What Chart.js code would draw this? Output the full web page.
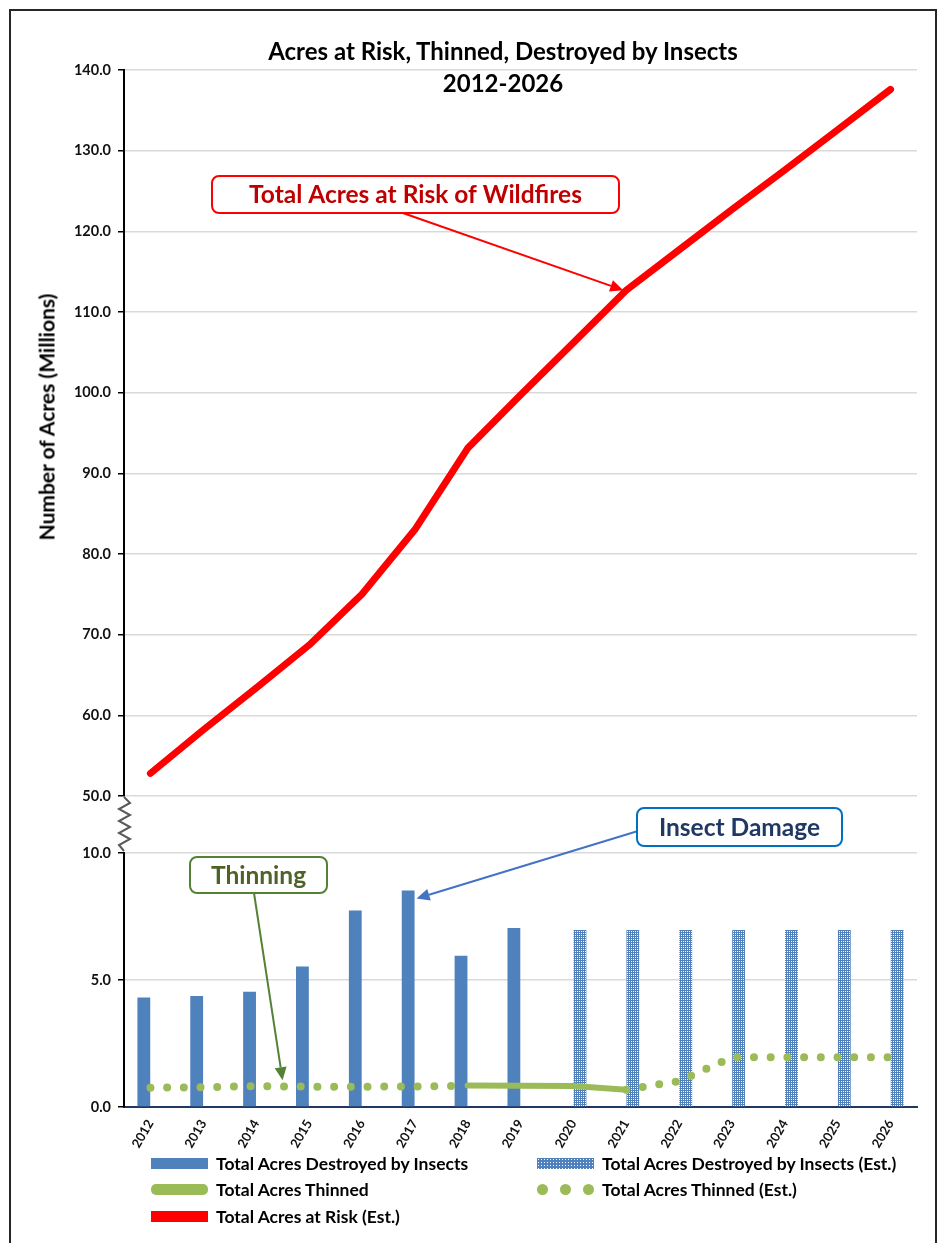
<!DOCTYPE html>
<html>
<head>
<meta charset="utf-8">
<title>Acres at Risk, Thinned, Destroyed by Insects</title>
<script src="https://cdn.jsdelivr.net/npm/chart.js@4.4.1/dist/chart.umd.min.js"></script>
<style>
  body { margin: 0; background: #fff; font-family: Lato, 'Noto Sans', sans-serif; }
  #page { position: relative; width: 945px; height: 1243px; overflow: hidden; }
  #frame { position: absolute; left: 9px; top: 9px; width: 928px; height: 1270px; border: 2px solid #262626; box-sizing: border-box; }
  canvas { position: absolute; left: 0; top: 0; }
  .title { position: absolute; left: 0; width: 1006px; text-align: center; font-weight: bold; font-size: 24px; color: #000; line-height: 26px; }
  #y-title { position: absolute; left: 46px; top: 417px; transform: translate(-50%, -50%) rotate(-90deg); white-space: nowrap; font-weight: bold; font-size: 21px; color: #000; }
  .key { position: absolute; display: flex; align-items: center; height: 20px; font-weight: bold; font-size: 17.5px; color: #000; white-space: nowrap; }
  .swatch { width: 57px; height: 11px; margin-right: 8px; }
  .pill { border-radius: 5px; }
  .dots { display: flex; justify-content: space-between; background: none; height: 11px; }
  .dots span { width: 11px; height: 11px; border-radius: 50%; background: #9bbb59; }
  .hatch { background-color: #4f81bd; background-image: radial-gradient(#ffffff 0.7px, transparent 0.9px); background-size: 3px 3px; }
</style>
</head>
<body>
<div id="page">
  <div id="frame"></div>
  <canvas id="upper-chart" width="945" height="1243"></canvas>
  <canvas id="lower-chart" width="945" height="1243"></canvas>

  <div class="title" style="top:38px">Acres at Risk, Thinned, Destroyed by Insects</div>
  <div class="title" style="top:70px">2012-2026</div>
  <div id="y-title">Number of Acres (Millions)</div>

  <div class="key" style="left:151px; top:1153px"><span class="swatch" style="background:#4f81bd"></span>Total Acres Destroyed by Insects</div>
  <div class="key" style="left:537px; top:1153px"><span class="swatch hatch"></span>Total Acres Destroyed by Insects (Est.)</div>
  <div class="key" style="left:151px; top:1179px"><span class="swatch pill" style="background:#9bbb59"></span>Total Acres Thinned</div>
  <div class="key" style="left:537px; top:1179px"><span class="swatch dots"><span></span><span></span><span></span></span>Total Acres Thinned (Est.)</div>
  <div class="key" style="left:151px; top:1206px"><span class="swatch" style="background:#ff0000"></span>Total Acres at Risk (Est.)</div>
</div>

<script>
'use strict';

// ******* DATA *******

let years = ['2012', '2013', '2014', '2015', '2016', '2017', '2018', '2019', '2020', '2021', '2022', '2023', '2024', '2025', '2026'];

let riskAcres = [52.8, 58.2, 63.4, 68.7, 75.0, 83.0, 93.1, 99.7, 106.2, 112.7, 117.7, 122.7, 127.6, 132.6, 137.6];

let insectAcres = [4.31, 4.37, 4.54, 5.53, 7.74, 8.52, 5.95, 7.05, null, null, null, null, null, null, null];
let insectAcresEst = [null, null, null, null, null, null, null, null, 6.97, 6.97, 6.97, 6.97, 6.97, 6.97, 6.97];

let thinnedAcres = [null, null, null, null, null, null, 0.85, 0.84, 0.83, 0.68, null, null, null, null, null];
let thinnedAcresEst = [0.76, 0.78, 0.82, 0.80, 0.80, 0.81, 0.84, null, null, 0.68, 1.02, 1.96, 1.96, 1.96, 1.96];

let upperTicks = [50, 60, 70, 80, 90, 100, 110, 120, 130, 140];
let lowerTicks = [0, 5, 10];


// ******* STYLE CONSTANTS *******

const BLUE = '#4f81bd';
const GREEN = '#9bbb59';
const RED = '#ff0000';
const AXIS_W = 124;        // y axis box width, puts the axis line at x = 124
const PAD_RIGHT = 28;
const tickFont = { family: 'Lato', size: 14.5, weight: 'bold' };


// ****** HELPERS ******

function makeDotPattern() {
  let tile = document.createElement('canvas');
  tile.width = 4;
  tile.height = 4;
  let tctx = tile.getContext('2d');
  tctx.fillStyle = BLUE;
  tctx.fillRect(0, 0, 4, 4);
  tctx.fillStyle = '#ffffff';
  [[1, 1], [3, 1], [1, 3], [3, 3]].forEach(p => tctx.fillRect(p[0], p[1], 1, 1));
  return tctx.createPattern(tile, 'repeat');
}

function drawArrow(ctx, from, tip, color) {
  let ang = Math.atan2(tip.y - from.y, tip.x - from.x);
  let len = 13;
  let half = 6;
  let bx = tip.x - len * Math.cos(ang);
  let by = tip.y - len * Math.sin(ang);
  ctx.strokeStyle = color;
  ctx.fillStyle = color;
  ctx.lineWidth = 2;
  ctx.beginPath();
  ctx.moveTo(from.x, from.y);
  ctx.lineTo(bx, by);
  ctx.stroke();
  ctx.beginPath();
  ctx.moveTo(tip.x, tip.y);
  ctx.lineTo(bx + half * Math.sin(ang), by - half * Math.cos(ang));
  ctx.lineTo(bx - half * Math.sin(ang), by + half * Math.cos(ang));
  ctx.closePath();
  ctx.fill();
}

function drawCallout(ctx, note, tip) {
  ctx.save();
  drawArrow(ctx, note.from, tip, note.arrow);
  ctx.beginPath();
  ctx.roundRect(note.x, note.y, note.w, note.h, 7);
  ctx.fillStyle = '#ffffff';
  ctx.fill();
  ctx.lineWidth = 2;
  ctx.strokeStyle = note.border;
  ctx.stroke();
  ctx.fillStyle = note.color;
  ctx.font = 'bold 24.5px Lato';
  ctx.textAlign = 'center';
  ctx.textBaseline = 'middle';
  ctx.fillText(note.text, note.x + note.w / 2, note.y + note.h / 2 + 1);
  ctx.restore();
}

function yLabel(value) {
  return Number(value).toFixed(1);
}


// ******* CALLOUT PLUGINS *******

let upperNotes = {
  id: 'upperNotes',
  afterDraw(chart) {
    let x = chart.scales.x;
    let y = chart.scales.y;
    let tip = { x: x.getPixelForValue(9) - 3, y: y.getPixelForValue(riskAcres[9]) };
    drawCallout(chart.ctx, {
      text: 'Total Acres at Risk of Wildfires',
      x: 212, y: 176, w: 407, h: 37,
      border: RED, color: '#c00000', arrow: RED,
      from: { x: 400, y: 212 }
    }, tip);
  }
};

let lowerNotes = {
  id: 'lowerNotes',
  afterDraw(chart) {
    let ctx = chart.ctx;
    let x = chart.scales.x;
    let y = chart.scales.y;
    let area = chart.chartArea;

    // broken axis squiggle between 50.0 and 10.0
    ctx.save();
    ctx.strokeStyle = '#595959';
    ctx.lineWidth = 2;
    ctx.beginPath();
    let top = 797;
    let bottom = area.top - 2;
    let steps = 9;
    ctx.moveTo(area.left, top);
    for (let i = 1; i < steps; i++) {
      let py = top + (bottom - top) * i / steps;
      ctx.lineTo(area.left + (i % 2 ? 6 : -5), py);
    }
    ctx.lineTo(area.left, bottom);
    ctx.stroke();
    ctx.restore();

    let bar2017 = chart.getDatasetMeta(2).data[5];
    drawCallout(ctx, {
      text: 'Insect Damage',
      x: 637, y: 808, w: 205, h: 38,
      border: '#0070c0', color: '#1f3864', arrow: '#4472c4',
      from: { x: 638, y: 831 }
    }, { x: bar2017.x + bar2017.width / 2 + 2, y: bar2017.y + 8 });

    drawCallout(ctx, {
      text: 'Thinning',
      x: 190, y: 857, w: 137, h: 36,
      border: '#548235', color: '#4f6228', arrow: '#548235',
      from: { x: 254, y: 893 }
    }, { x: (x.getPixelForValue(2) + x.getPixelForValue(3)) / 2, y: y.getPixelForValue(thinnedAcresEst[2]) - 6 });
  }
};


// ******* UPPER CHART (50 - 140) *******

let upperChart = new Chart(document.getElementById('upper-chart'), {
  type: 'line',
  data: {
    labels: years,
    datasets: [{
      label: 'Total Acres at Risk (Est.)',
      data: riskAcres,
      borderColor: RED,
      borderWidth: 7,
      borderCapStyle: 'round',
      borderJoinStyle: 'round',
      pointRadius: 0,
      tension: 0
    }]
  },
  options: {
    responsive: false,
    animation: false,
    layout: { padding: { left: 0, right: PAD_RIGHT, top: 70, bottom: 1243 - 796 } },
    plugins: { legend: { display: false }, tooltip: { enabled: false } },
    scales: {
      x: { display: false, offset: true },
      y: {
        min: 50,
        max: 140,
        afterBuildTicks: scale => { scale.ticks = upperTicks.map(v => ({ value: v })); },
        afterFit: scale => { scale.width = AXIS_W; },
        grid: { color: '#d9d9d9', lineWidth: 1.5, tickColor: '#000', tickLength: 6 },
        border: { color: '#000', width: 2 },
        ticks: { color: '#111', font: tickFont, padding: 7, callback: yLabel }
      }
    }
  },
  plugins: [upperNotes]
});


// ******* LOWER CHART (0 - 10) *******

let lowerChart = new Chart(document.getElementById('lower-chart'), {
  type: 'bar',
  data: {
    labels: years,
    datasets: [
      {
        type: 'line',
        label: 'Total Acres Thinned',
        data: thinnedAcres,
        borderColor: GREEN,
        borderWidth: 6,
        borderCapStyle: 'round',
        pointRadius: 0,
        order: 0
      },
      {
        type: 'line',
        label: 'Total Acres Thinned (Est.)',
        data: thinnedAcresEst,
        borderColor: GREEN,
        borderWidth: 8,
        borderDash: [0, 16.7],
        borderCapStyle: 'round',
        pointRadius: 0,
        order: 0
      },
      {
        label: 'Total Acres Destroyed by Insects',
        data: insectAcres,
        backgroundColor: BLUE,
        order: 1
      },
      {
        label: 'Total Acres Destroyed by Insects (Est.)',
        data: insectAcresEst,
        backgroundColor: makeDotPattern(),
        order: 1
      }
    ]
  },
  options: {
    responsive: false,
    animation: false,
    layout: { padding: { left: 0, right: PAD_RIGHT, top: 853, bottom: 94 } },
    plugins: { legend: { display: false }, tooltip: { enabled: false } },
    datasets: { bar: { categoryPercentage: 0.5, barPercentage: 0.97 } },
    scales: {
      x: {
        offset: true,
        afterFit: scale => { scale.height = 42; },
        grid: { display: false },
        border: { color: '#1f3864', width: 2 },
        ticks: { color: '#111', font: { family: 'Lato', size: 13, weight: 'bold' }, minRotation: 60, maxRotation: 60, padding: 2 }
      },
      y: {
        min: 0,
        max: 10,
        afterBuildTicks: scale => { scale.ticks = lowerTicks.map(v => ({ value: v })); },
        afterFit: scale => { scale.width = AXIS_W; },
        grid: { color: '#d9d9d9', lineWidth: 1.5, tickColor: '#000', tickLength: 6 },
        border: { color: '#000', width: 2 },
        ticks: { color: '#111', font: tickFont, padding: 7, callback: yLabel }
      }
    }
  },
  plugins: [lowerNotes]
});
</script>
</body>
</html>
